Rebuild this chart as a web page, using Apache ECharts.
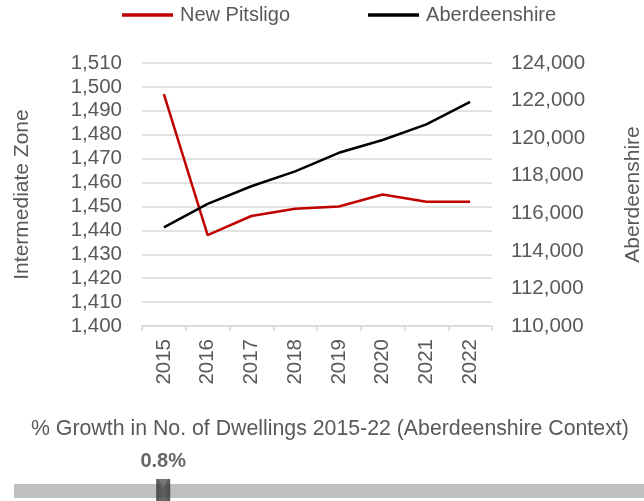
<!DOCTYPE html>
<html>
<head>
<meta charset="utf-8">
<script src="https://cdn.jsdelivr.net/npm/echarts@6/dist/echarts.min.js"></script>
<style>
  html, body { margin: 0; padding: 0; background: #fff; }
  #chart { width: 644px; height: 501px; }
</style>
</head>
<body>
<div id="chart"></div>
<script>
const years = ['2015', '2016', '2017', '2018', '2019', '2020', '2021', '2022']
const newPitsligo = [1497, 1438, 1446, 1449, 1450, 1455, 1452, 1452]
const aberdeenshire = [115250, 116500, 117440, 118230, 119220, 119900, 120730, 121930]
const growthValue = 0.8
const growthRange = [-1, 6.6]

const font = 'Liberation Sans, Arial, sans-serif'
const grey = '#595959'
const fs = 20.5

const chart = echarts.init(document.getElementById('chart'))

const option = {
  animation: false,
  textStyle: { fontFamily: font },
  title: {
    text: '% Growth in No. of Dwellings 2015-22 (Aberdeenshire Context)',
    left: 26,
    top: 414,
    textStyle: { fontFamily: font, fontSize: 21.3, fontWeight: 'normal', color: grey }
  },
  legend: {
    top: 0,
    left: 117,
    itemGap: 78,
    itemWidth: 51,
    itemHeight: 3.5,
    icon: 'rect',
    textStyle: { fontFamily: font, fontSize: 20, color: grey, padding: [0, 0, 0, 2] },
    data: ['New Pitsligo', 'Aberdeenshire']
  },
  grid: [
    { left: 142, right: 152, top: 63, bottom: 175, outerBoundsMode: 'none' },
    { left: 14, right: 0, top: 476, height: 30, outerBoundsMode: 'none' }
  ],
  xAxis: [
    {
      type: 'category',
      gridIndex: 0,
      data: years,
      boundaryGap: true,
      axisLine: { lineStyle: { color: '#d9d9d9', width: 1.5 } },
      axisTick: { show: true, length: 5, lineStyle: { color: '#d9d9d9', width: 1.5 } },
      axisLabel: { rotate: 90, fontSize: fs, color: grey, margin: 13, fontFamily: font }
    },
    {
      type: 'value',
      gridIndex: 1,
      min: growthRange[0],
      max: growthRange[1],
      show: false
    }
  ],
  yAxis: [
    {
      type: 'value',
      gridIndex: 0,
      min: 1400,
      max: 1510,
      interval: 10,
      name: 'Intermediate Zone',
      nameLocation: 'middle',
      nameRotate: 90,
      nameGap: 109,
      nameTextStyle: { fontSize: 21, color: grey, fontFamily: font },
      axisLine: { show: false },
      axisTick: { show: false },
      splitLine: { lineStyle: { color: '#d9d9d9', width: 1.5 } },
      axisLabel: {
        fontSize: fs, color: grey, margin: 20, fontFamily: font,
        formatter: v => v.toLocaleString('en-GB')
      }
    },
    {
      type: 'value',
      gridIndex: 0,
      position: 'right',
      min: 110000,
      max: 124000,
      interval: 2000,
      name: 'Aberdeenshire',
      nameLocation: 'middle',
      nameRotate: 90,
      nameGap: 131,
      nameTextStyle: { fontSize: 21, color: grey, fontFamily: font },
      axisLine: { show: false },
      axisTick: { show: false },
      splitLine: { show: false },
      axisLabel: {
        fontSize: fs, color: grey, margin: 19, fontFamily: font,
        formatter: v => v.toLocaleString('en-GB')
      }
    },
    {
      type: 'value',
      gridIndex: 1,
      min: 0,
      max: 30,
      inverse: true,
      show: false
    }
  ],
  series: [
    {
      name: 'New Pitsligo',
      type: 'line',
      xAxisIndex: 0,
      yAxisIndex: 0,
      data: newPitsligo,
      showSymbol: false,
      lineStyle: { color: '#c00000', width: 2.5 },
      itemStyle: { color: '#c00000' }
    },
    {
      name: 'Aberdeenshire',
      type: 'line',
      xAxisIndex: 0,
      yAxisIndex: 1,
      data: aberdeenshire,
      showSymbol: false,
      lineStyle: { color: '#000000', width: 2.5 },
      itemStyle: { color: '#000000' }
    },
    {
      name: 'growth',
      type: 'scatter',
      xAxisIndex: 1,
      yAxisIndex: 2,
      data: [[growthValue, 14]],
      symbol: 'rect',
      symbolSize: [14, 22],
      itemStyle: {
        color: new echarts.graphic.LinearGradient(0, 0, 1, 0, [
          { offset: 0, color: '#2e2e2e' },
          { offset: 0.5, color: '#4a4a4a' },
          { offset: 1, color: '#2e2e2e' }
        ])
      },
      label: {
        show: true,
        position: 'top',
        distance: 8,
        formatter: p => p.value[0].toFixed(1) + '%',
        fontSize: 20,
        fontWeight: 'bold',
        color: '#404040',
        fontFamily: font
      },
      markArea: {
        silent: true,
        itemStyle: { color: '#bfbfbf' },
        data: [[{ xAxis: growthRange[0], yAxis: 8 }, { xAxis: growthRange[1], yAxis: 22 }]]
      },
      z: 5
    },
    {
      name: 'growthNotch',
      type: 'scatter',
      xAxisIndex: 1,
      yAxisIndex: 2,
      data: [[growthValue, 14]],
      symbol: 'triangle',
      symbolRotate: 180,
      symbolSize: [10, 8],
      symbolOffset: [0, -7],
      itemStyle: { color: '#7a7a7a' },
      silent: true,
      z: 6
    }
  ]
}

chart.setOption(option)
</script>
</body>
</html>
